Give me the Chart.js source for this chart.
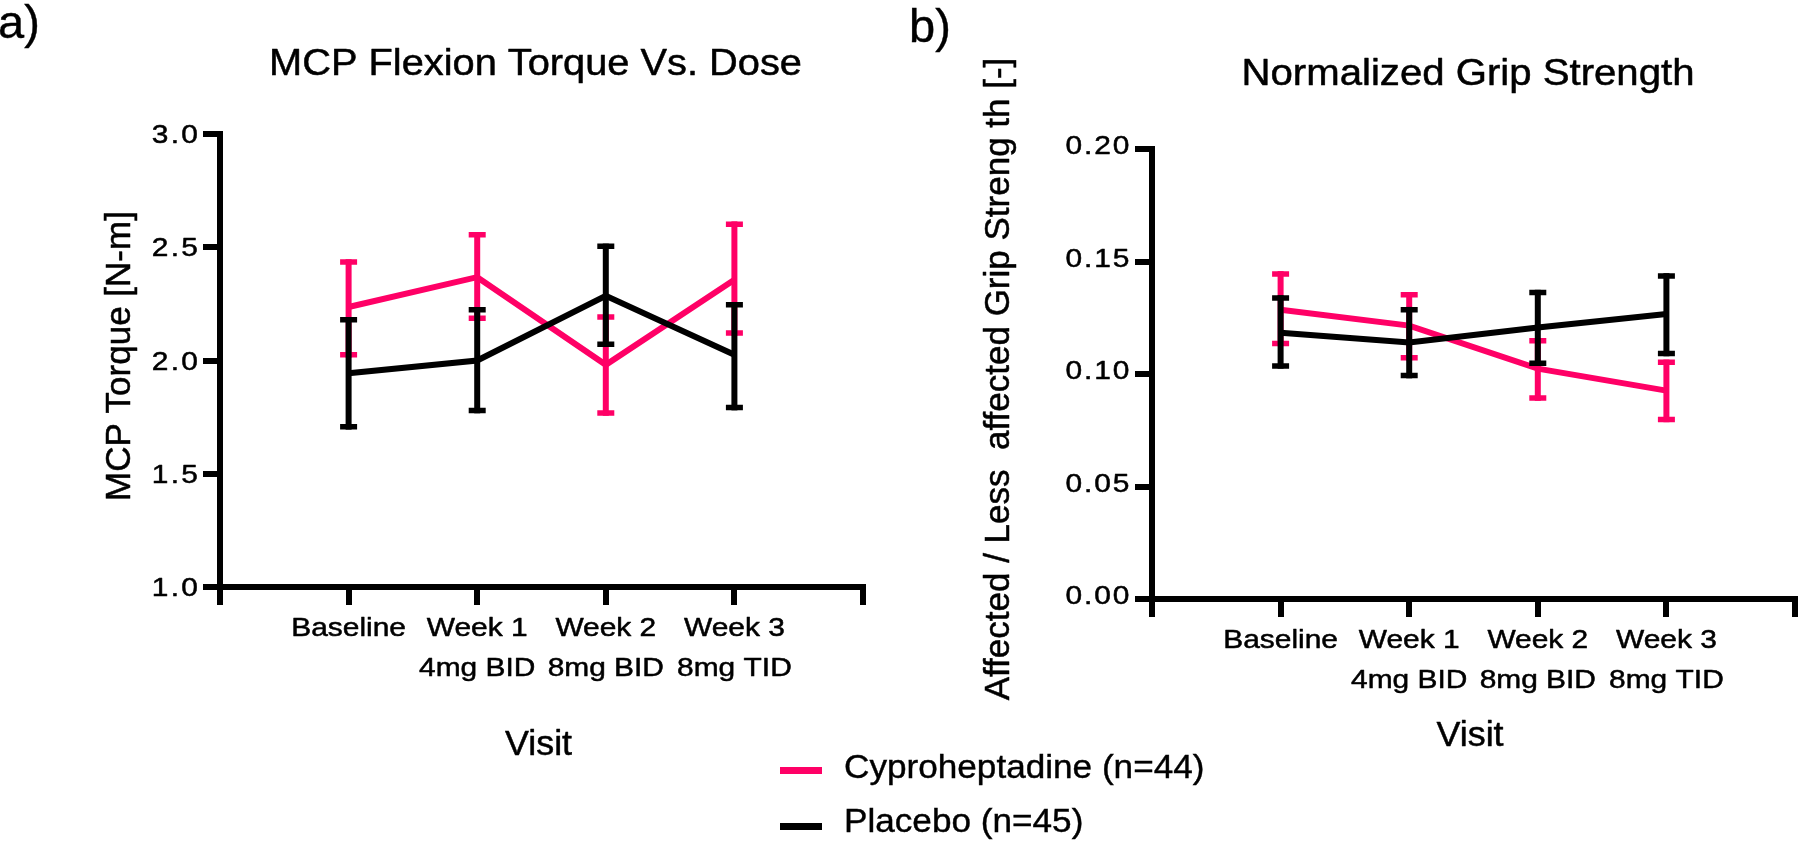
<!DOCTYPE html>
<html>
<head>
<meta charset="utf-8">
<title>MCP Flexion Torque and Normalized Grip Strength</title>
<script src="https://cdn.jsdelivr.net/npm/chart.js@4.4.1/dist/chart.umd.min.js"></script>
<style>
  html, body { margin:0; padding:0; background:#fff; }
  #fig { position:relative; width:1800px; height:843px; overflow:hidden; background:#fff;
         font-family:'Liberation Sans', Arial, Helvetica, sans-serif; color:#000; }
  #fig canvas { position:absolute; top:0; }
  #chartA { left:0; width:900px; height:843px; }
  #chartB { left:900px; width:900px; height:843px; }
  .panel { position:absolute; font-size:47px; line-height:47px; white-space:nowrap; -webkit-text-stroke:0.4px #000; }
  .leg-line { position:absolute; width:42px; height:7px; }
  .leg-text { position:absolute; font-size:33px; line-height:33px; white-space:nowrap; -webkit-text-stroke:0.4px #000;
              transform:scaleX(1.065); transform-origin:0 0; }
</style>
</head>
<body>
<div id="fig">
  <canvas id="chartA" width="900" height="843"></canvas>
  <canvas id="chartB" width="900" height="843"></canvas>
  <div class="panel" style="left:-2px;top:-2px;">a)</div>
  <div class="panel" style="left:909px;top:2px;">b)</div>
  <div id="legend"></div>
</div>
<script>
// ---------------- data ----------------
const categories = [['Baseline'], ['Week 1', '4mg BID'], ['Week 2', '8mg BID'], ['Week 3', '8mg TID']];
const xTickValues = [-1, 0, 1, 2, 3, 4];
const seriesNames = ['Cyproheptadine (n=44)', 'Placebo (n=45)'];
const seriesColors = ['#ff0066', '#000000'];

// a) MCP Flexion Torque [N-m]
const torqueTicks = [1.0, 1.5, 2.0, 2.5, 3.0];
const torqueCypro      = [2.236, 2.368, 1.981, 2.356];
const torqueCyproLow   = [2.025, 2.187, 1.768, 2.121];
const torqueCyproHigh  = [2.435, 2.555, 2.192, 2.602];
const torquePlacebo     = [1.944, 2.000, 2.286, 2.025];
const torquePlaceboLow  = [1.707, 1.779, 2.072, 1.792];
const torquePlaceboHigh = [2.180, 2.224, 2.504, 2.246];

// b) Normalized grip strength [-]
const gripTicks = [0.00, 0.05, 0.10, 0.15, 0.20];
const gripCypro      = [0.1286, 0.1215, 0.1024, 0.0926];
const gripCyproLow   = [0.1136, 0.1072, 0.0893, 0.0798];
const gripCyproHigh  = [0.1445, 0.1352, 0.1148, 0.1052];
const gripPlacebo     = [0.1183, 0.1140, 0.1207, 0.1267];
const gripPlaceboLow  = [0.1036, 0.0993, 0.1048, 0.1091];
const gripPlaceboHigh = [0.1338, 0.1286, 0.1362, 0.1436];

// ---------------- helpers ----------------
const FONT = "'Liberation Sans', Arial, Helvetica, sans-serif";
const TEXT_STROKE = 0.5;

const errorBarPlugin = {
  id: 'errorBars',
  afterDatasetDraw(chart, args) {
    const ds = chart.data.datasets[args.index];
    if (!ds.errLow) return;
    const xs = chart.scales.x, ys = chart.scales.y, ctx = chart.ctx;
    ctx.save();
    ctx.strokeStyle = ds.borderColor;
    ctx.lineCap = 'butt';
    ds.data.forEach((p, i) => {
      const px = xs.getPixelForValue(p.x);
      const lo = ys.getPixelForValue(ds.errLow[i]);
      const hi = ys.getPixelForValue(ds.errHigh[i]);
      ctx.lineWidth = 6;
      ctx.beginPath(); ctx.moveTo(px, lo + 2.75); ctx.lineTo(px, hi - 2.75); ctx.stroke();
      ctx.lineWidth = 5.5;
      ctx.beginPath();
      ctx.moveTo(px - 8.5, hi); ctx.lineTo(px + 8.5, hi);
      ctx.moveTo(px - 8.5, lo); ctx.lineTo(px + 8.5, lo);
      ctx.stroke();
    });
    ctx.restore();
  }
};

// wraps a Chart.js text-drawing method: letter spacing, horizontal glyph scale, small shift, heavier glyphs
function tweakDraw(obj, method, o) {
  if (!obj || !o || obj['_tw_' + method]) return;
  const orig = obj[method];
  const spacing = o.spacing, dx = o.dx || 0, dy = o.dy || 0, stroke = o.stroke || 0, k = o.scaleX || 1;
  const protoFill = CanvasRenderingContext2D.prototype.fillText;
  obj[method] = function (...a) {
    const c = this.ctx;
    c.save();
    if (spacing !== undefined) c.letterSpacing = spacing;
    c.translate(dx, dy);
    c.fillText = function (t, x, y, m) {
      this.save();
      this.translate(x, y);
      this.scale(k, 1);
      if (stroke) {
        this.save();
        this.lineWidth = stroke; this.strokeStyle = this.fillStyle; this.lineJoin = 'round';
        this.strokeText(t, 0, 0, m);
        this.restore();
      }
      protoFill.call(this, t, 0, 0, m);
      this.restore();
    };
    try { return orig.apply(this, a); } finally { delete c.fillText; c.restore(); }
  };
  obj['_tw_' + method] = true;
}

function textTweaksFor(t) {
  return {
    id: 'textTweaks',
    beforeDraw(chart) {
      tweakDraw(chart.scales.x, 'drawLabels', t.xLabels);
      tweakDraw(chart.scales.y, 'drawLabels', t.yLabels);
      tweakDraw(chart.scales.x, 'drawTitle', t.xTitle);
      tweakDraw(chart.scales.y, 'drawTitle', t.yTitle);
      tweakDraw(chart.titleBlock, 'draw', t.title);
    }
  };
}

function makeChart(canvasId, cfg) {
  const line = (label, color, vals, lo, hi, order) => ({
    label, data: vals.map((v, i) => ({ x: i, y: v })), errLow: lo, errHigh: hi,
    borderColor: color, backgroundColor: color, borderWidth: 6,
    pointRadius: 0, pointHoverRadius: 0, tension: 0, fill: false,
    borderJoinStyle: 'miter', borderCapStyle: 'butt', order
  });
  return new Chart(document.getElementById(canvasId), {
    type: 'line',
    data: {
      datasets: [
        line(seriesNames[0], seriesColors[0], cfg.cypro, cfg.cyproLow, cfg.cyproHigh, 2),
        line(seriesNames[1], seriesColors[1], cfg.placebo, cfg.placeboLow, cfg.placeboHigh, 1)
      ]
    },
    options: {
      responsive: false, maintainAspectRatio: false, animation: false, devicePixelRatio: 1, events: [],
      layout: { autoPadding: false, padding: { left: 0, right: cfg.padRight, top: 0, bottom: cfg.padBottom } },
      plugins: {
        legend: { display: false },
        tooltip: { enabled: false },
        title: {
          display: true, text: cfg.title, align: 'center', fullSize: false, color: '#000',
          font: { family: FONT, size: 36.5, weight: 'normal', lineHeight: 1.2 },
          padding: { top: cfg.titleTop, bottom: cfg.titleBottom }
        }
      },
      scales: {
        x: {
          type: 'linear', min: xTickValues[0], max: xTickValues[xTickValues.length - 1],
          afterBuildTicks: s => { s.ticks = xTickValues.map(v => ({ value: v })); },
          afterFit: s => { s.height = cfg.xHeight; },
          ticks: {
            autoSkip: false, maxRotation: 0, minRotation: 0, padding: 3.5, color: '#000',
            font: { family: FONT, size: 26, lineHeight: 40 / 26 },
            callback: v => (Number.isInteger(v) && v >= 0 && v < categories.length) ? categories[v] : ''
          },
          grid: { display: true, drawOnChartArea: false, drawTicks: true, tickLength: 18, lineWidth: 6, color: '#000' },
          border: { display: true, width: 6, color: '#000' },
          title: { display: true, text: 'Visit', color: '#000', font: { family: FONT, size: 34.5, lineHeight: 1.2 }, padding: { top: 0, bottom: 0 } }
        },
        y: {
          type: 'linear', min: cfg.yTicks[0], max: cfg.yTicks[cfg.yTicks.length - 1],
          afterBuildTicks: s => { s.ticks = cfg.yTicks.map(v => ({ value: v })); },
          afterFit: s => { s.width = cfg.yWidth; },
          ticks: {
            autoSkip: false, padding: cfg.yTickPad, color: '#000', labelOffset: cfg.yLabelOffset,
            font: { family: FONT, size: 26, lineHeight: 1.2 },
            callback: v => Number(v).toFixed(cfg.decimals)
          },
          grid: { display: true, drawOnChartArea: false, drawTicks: true, tickLength: 17, lineWidth: 6, color: '#000' },
          border: { display: true, width: 6, color: '#000' },
          title: { display: true, text: cfg.yTitle, color: '#000', font: { family: FONT, size: 35, lineHeight: 1.2 }, padding: { top: cfg.yTitlePad, bottom: 0 } }
        }
      }
    },
    plugins: [errorBarPlugin, textTweaksFor(cfg.tweaks)]
  });
}

makeChart('chartA', {
  title: 'MCP Flexion Torque Vs. Dose', yTitle: 'MCP Torque [N-m]',
  cypro: torqueCypro, cyproLow: torqueCyproLow, cyproHigh: torqueCyproHigh,
  placebo: torquePlacebo, placeboLow: torquePlaceboLow, placeboHigh: torquePlaceboHigh,
  yTicks: torqueTicks, decimals: 1,
  padRight: 37, padBottom: 77, xHeight: 179, yWidth: 220,
  titleTop: 42.6, titleBottom: 47.6, yTitlePad: 99.8, yLabelOffset: 2, yTickPad: 2.8,
  tweaks: {
    xLabels: { scaleX: 1.15, stroke: TEXT_STROKE },
    yLabels: { scaleX: 1.15, spacing: '2px', stroke: TEXT_STROKE },
    title: { scaleX: 1.09, dx: -6, stroke: TEXT_STROKE },
    yTitle: { dy: -4.5, stroke: TEXT_STROKE },
    xTitle: { dx: -3, scaleX: 1.04, stroke: TEXT_STROKE }
  }
});

makeChart('chartB', {
  title: 'Normalized Grip Strength', yTitle: 'Affected / Less  affected Grip Streng th [-]',
  cypro: gripCypro, cyproLow: gripCyproLow, cyproHigh: gripCyproHigh,
  placebo: gripPlacebo, placeboLow: gripPlaceboLow, placeboHigh: gripPlaceboHigh,
  yTicks: gripTicks, decimals: 2,
  padRight: 5, padBottom: 85.4, xHeight: 158.6, yWidth: 252,
  titleTop: 53.4, titleBottom: 51.8, yTitlePad: 78, yLabelOffset: -2, yTickPad: 3.7,
  tweaks: {
    xLabels: { scaleX: 1.15, stroke: TEXT_STROKE },
    yLabels: { scaleX: 1.15, spacing: '1.65px', stroke: TEXT_STROKE },
    title: { scaleX: 1.1, dx: -5.5, stroke: TEXT_STROKE },
    yTitle: { dy: 5, stroke: TEXT_STROKE },
    xTitle: { dx: -3.5, scaleX: 1.04, stroke: TEXT_STROKE }
  }
});

// ---------------- legend (HTML, built from the series arrays) ----------------
const legend = document.getElementById('legend');
const legendRows = [{ lineTop: 767.2, textTop: 750.4 }, { lineTop: 823.2, textTop: 803.8 }];
seriesNames.forEach((name, i) => {
  const ln = document.createElement('div');
  ln.className = 'leg-line';
  ln.style.left = '780px';
  ln.style.top = legendRows[i].lineTop + 'px';
  ln.style.background = seriesColors[i];
  const tx = document.createElement('div');
  tx.className = 'leg-text';
  tx.style.left = '844px';
  tx.style.top = legendRows[i].textTop + 'px';
  tx.textContent = name;
  legend.appendChild(ln);
  legend.appendChild(tx);
});
</script>
</body>
</html>
